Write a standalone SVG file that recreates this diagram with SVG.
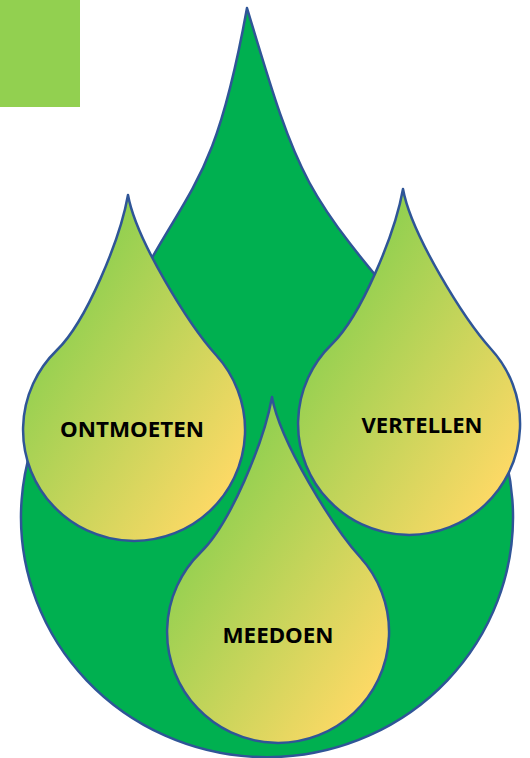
<svg xmlns="http://www.w3.org/2000/svg" width="530" height="758" viewBox="0 0 530 758">
  <defs>
    <linearGradient id="dropGrad" x1="0" y1="0" x2="1" y2="1">
      <stop offset="0.25" stop-color="#92d050"/>
      <stop offset="0.9" stop-color="#ffd966"/>
    </linearGradient>
    <style>
      .outline { stroke: #2f5597; stroke-width: 2.5; stroke-linejoin: round; }
      .big { fill: #00b050; }
      .drop { fill: url(#dropGrad); }
      .label { font-family: "Noto Sans", "Open Sans", sans-serif; font-weight: bold; font-size: 22px; fill: #000000; text-anchor: middle; }
    </style>
  </defs>
  <rect id="square" x="0" y="0" width="80" height="107" fill="#92d050"/>
  <g id="big-drop">
    <path class="big outline" d="M 247,8 C 212.5,198 187.5,180 113,330 A 246 240 0 1 0 421,330 C 303.5,190 300.8,188 247,8 Z"/>
  </g>
  <g id="connectors"></g>
  <g id="node-ontmoeten">
    <path class="drop outline" transform="translate(134,430)" d="M -6,-235 C -14,-190 -48,-108 -77,-80 A 111 111 0 1 0 82,-75 C 55,-105 2,-190 -6,-235 Z"/>
    <text class="label" x="132" y="437" textLength="144" lengthAdjust="spacingAndGlyphs">ONTMOETEN</text>
  </g>
  <g id="node-vertellen">
    <path class="drop outline" transform="translate(409,424)" d="M -6,-235 C -14,-190 -48,-108 -77,-80 A 111 111 0 1 0 82,-75 C 55,-105 2,-190 -6,-235 Z"/>
    <text class="label" x="422" y="433" textLength="121" lengthAdjust="spacingAndGlyphs">VERTELLEN</text>
  </g>
  <g id="node-meedoen">
    <path class="drop outline" transform="translate(278,632)" d="M -6,-235 C -14,-190 -48,-108 -77,-80 A 111 111 0 1 0 82,-75 C 55,-105 2,-190 -6,-235 Z"/>
    <text class="label" x="278" y="643" textLength="111" lengthAdjust="spacingAndGlyphs">MEEDOEN</text>
  </g>
</svg>
